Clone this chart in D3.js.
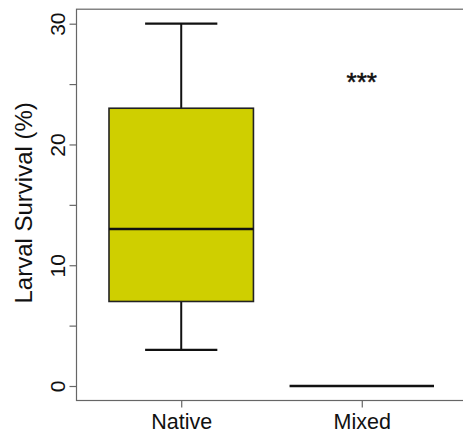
<!DOCTYPE html>
<html>
<head>
<meta charset="utf-8">
<script src="https://cdn.jsdelivr.net/npm/d3@7"></script>
<style>
  html, body { margin: 0; padding: 0; background: #fff; }
  svg { display: block; font-family: "Liberation Sans", Arial, Helvetica, sans-serif; }
</style>
</head>
<body>
<svg id="chart" width="463" height="432"></svg>
<script>
// ---- data ----
const categories = ["Native", "Mixed"];
const whiskerLow = [3, 0];
const q1 = [7, 0];
const median = [13, 0];
const q3 = [23, 0];
const whiskerHigh = [30, 0];
const yTicks = [0, 5, 10, 15, 20, 25, 30];
const yTickLabels = ["0", "", "10", "", "20", "", "30"];
const yLabel = "Larval Survival (%)";
const significance = ["", "***"];
const significanceY = [null, 25];

// ---- layout ----
const svg = d3.select("#chart");
const n = categories.length;
const xPad = 0.04 * n;           // R-style 4% expansion of [0.5, n+0.5]
const x = d3.scaleLinear().domain([0.5 - xPad, n + 0.5 + xPad]).range([76.5, 466.5]);
const yMin = 0, yMax = 30, yExt = 0.04 * (yMax - yMin);
const y = d3.scaleLinear().domain([yMin - yExt, yMax + yExt]).range([400.5, 9.2]);

const boxHalf = 0.4;   // box half-width in x units
const capHalf = 0.2;
const fill = "#cfcf00";

// frame
svg.append("rect")
  .attr("x", x.range()[0]).attr("y", y.range()[1])
  .attr("width", x.range()[1] - x.range()[0])
  .attr("height", y.range()[0] - y.range()[1])
  .attr("fill", "none").attr("stroke", "#666").attr("stroke-width", 1.2);

// y axis
const yAxis = d3.axisLeft(y).tickValues(yTicks).tickSize(7).tickPadding(5)
  .tickFormat((d, i) => yTickLabels[i]);
const gy = svg.append("g").attr("transform", `translate(${x.range()[0]},0)`).call(yAxis);
gy.select(".domain").remove();
gy.selectAll(".tick line").attr("stroke", "#666").attr("stroke-width", 1.2);
gy.selectAll(".tick text")
  .attr("font-size", 21).attr("fill", "#111")
  .attr("transform", "rotate(-90)")
  .attr("x", 0).attr("y", -12)
  .attr("text-anchor", "middle").attr("dy", "0");

// x axis
const xAxis = d3.axisBottom(x).tickValues(d3.range(1, n + 1)).tickSize(7).tickPadding(6)
  .tickFormat((d) => categories[d - 1]);
const gx = svg.append("g").attr("transform", `translate(0,${y.range()[0]})`).call(xAxis);
gx.select(".domain").remove();
gx.selectAll(".tick line").attr("stroke", "#666").attr("stroke-width", 1.2);
gx.selectAll(".tick text").attr("font-size", 21.5).attr("fill", "#111").attr("dy", "0")
  .attr("y", 28);

// y label
svg.append("text")
  .attr("transform", `translate(32,${(y.range()[0] + y.range()[1]) / 2 - 2}) rotate(-90)`)
  .attr("text-anchor", "middle")
  .attr("font-size", 24).attr("fill", "#111")
  .text(yLabel);

// boxes
const data = categories.map((c, i) => ({
  i: i + 1, lo: whiskerLow[i], q1: q1[i], med: median[i], q3: q3[i], hi: whiskerHigh[i],
  sig: significance[i], sigY: significanceY[i]
}));

const g = svg.append("g");
data.forEach(d => {
  const cx = x(d.i);
  const bl = x(d.i - boxHalf), br = x(d.i + boxHalf);
  const cl = x(d.i - capHalf), cr = x(d.i + capHalf);
  // whiskers
  if (d.hi > d.q3) {
    g.append("line").attr("x1", cx).attr("x2", cx).attr("y1", y(d.q3)).attr("y2", y(d.hi))
      .attr("stroke", "#111").attr("stroke-width", 2);
    g.append("line").attr("x1", cl).attr("x2", cr).attr("y1", y(d.hi)).attr("y2", y(d.hi))
      .attr("stroke", "#111").attr("stroke-width", 2.2);
  }
  if (d.lo < d.q1) {
    g.append("line").attr("x1", cx).attr("x2", cx).attr("y1", y(d.q1)).attr("y2", y(d.lo))
      .attr("stroke", "#111").attr("stroke-width", 2);
    g.append("line").attr("x1", cl).attr("x2", cr).attr("y1", y(d.lo)).attr("y2", y(d.lo))
      .attr("stroke", "#111").attr("stroke-width", 2.2);
  }
  if (d.q3 > d.q1) {
    g.append("rect").attr("x", bl).attr("y", y(d.q3)).attr("width", br - bl)
      .attr("height", y(d.q1) - y(d.q3))
      .attr("fill", fill).attr("stroke", "#222").attr("stroke-width", 1.6);
  }
  g.append("line").attr("x1", bl).attr("x2", br).attr("y1", y(d.med)).attr("y2", y(d.med))
    .attr("stroke", "#111").attr("stroke-width", 2.5);
  if (d.sig) {
    g.append("text").attr("x", cx).attr("y", y(d.sigY)).attr("dy", "0.25em")
      .attr("text-anchor", "middle").attr("font-size", 26).attr("fill", "#111")
      .attr("stroke", "#111").attr("stroke-width", 0.5)
      .text(d.sig);
  }
});
</script>
</body>
</html>
